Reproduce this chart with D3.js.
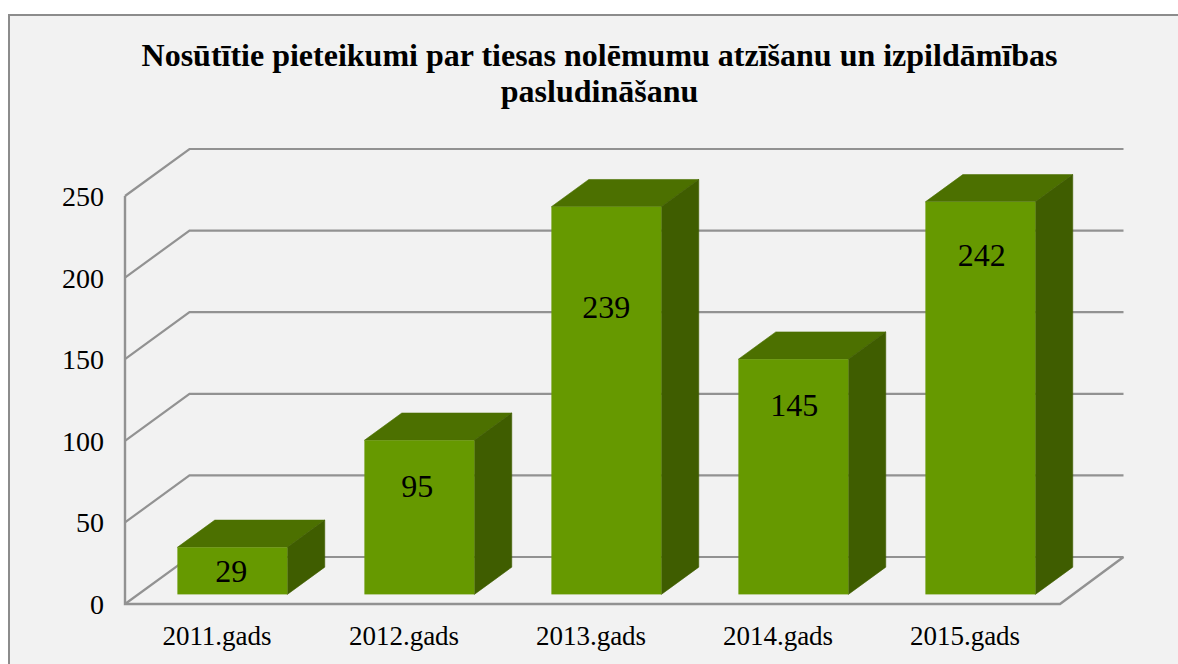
<!DOCTYPE html>
<html><head><meta charset="utf-8">
<script src="https://cdn.jsdelivr.net/npm/d3@7"></script>
<style>html,body{margin:0;padding:0;background:#fff}svg{display:block}text{font-family:"Liberation Serif",serif;fill:#000}</style>
</head><body><svg id="c" width="1178" height="664"></svg>
<script>
const categories = ["2011.gads","2012.gads","2013.gads","2014.gads","2015.gads"];
const values = [29,95,239,145,242];
const yTicks = [0,50,100,150,200,250];
const titleLines = ["Nosūtītie pieteikumi par tiesas nolēmumu atzīšanu un izpildāmības","pasludināšanu"];

const svg = d3.select("#c");
const labelDrop = [35,57,111,57,64], labelShift = [-1,-2,0,1,1.5];
const plotL=125, plotR=1060, plotB=604, plotT=196, wallDx=64.5, wallDy=-47;
const barInset=0.215, barDepth=0.58;
const x = d3.scaleBand().domain(categories).range([plotL,plotR]).paddingInner(0.412).paddingOuter(0.206);
const y = d3.scaleLinear().domain([0,250]).range([plotB,plotT]);
const yBar = d3.scaleLinear().domain([0,250]).range([plotB+0.5,plotB+0.5-405.5]);
const grid="#929292";

svg.append("rect").attr("x",9).attr("y",15).attr("width",1180).attr("height",660)
  .attr("fill","#f2f2f2").attr("stroke","#8c8c8c").attr("stroke-width",2);

const line=d3.line();
yTicks.forEach(t=>{
  const pts = [[plotL,y(t)],[plotL+wallDx,y(t)+wallDy],[plotR+wallDx-1,y(t)+wallDy]];
  svg.append("path").attr("d",line(pts)).attr("fill","none").attr("stroke",grid).attr("stroke-width",2.2);
});
svg.append("path").attr("d",line([[plotL,plotT],[plotL,plotB],[plotR,plotB],[plotR+wallDx-1,plotB+wallDy]]))
  .attr("fill","none").attr("stroke",grid).attr("stroke-width",2.4);

const ox=wallDx*barInset, oy=wallDy*barInset, dx=wallDx*barDepth, dy=wallDy*barDepth;
const bars=svg.selectAll("g.bar").data(values).join("g").attr("class","bar");
function barGeom(v,i){const l=x(categories[i])+ox,r=l+x.bandwidth(),t=yBar(v)+oy,b=yBar(0)+oy;return{l,r,t,b};}
bars.append("path").attr("fill","#4c7000").attr("stroke","#4c7000").attr("stroke-width",.6).attr("d",(v,i)=>{const g=barGeom(v,i);return line([[g.l,g.t],[g.l+dx,g.t+dy],[g.r+dx,g.t+dy],[g.r,g.t]])+"Z";});
bars.append("path").attr("fill","#3f5d00").attr("stroke","#3f5d00").attr("stroke-width",.6).attr("d",(v,i)=>{const g=barGeom(v,i);return line([[g.r,g.t],[g.r+dx,g.t+dy],[g.r+dx,g.b+dy],[g.r,g.b]])+"Z";});
bars.append("rect").attr("fill","#669900").attr("x",(v,i)=>barGeom(v,i).l).attr("y",(v,i)=>barGeom(v,i).t)
  .attr("width",x.bandwidth()).attr("height",(v,i)=>{const g=barGeom(v,i);return g.b-g.t;});
bars.append("text").attr("text-anchor","middle").attr("font-size",32)
  .attr("x",(v,i)=>{const g=barGeom(v,i);return (g.l+g.r)/2+labelShift[i];})
  .attr("y",(v,i)=>barGeom(v,i).t+labelDrop[i])
  .text(v=>v);

svg.selectAll("text.yl").data(yTicks).join("text").attr("class","yl").attr("text-anchor","end")
  .attr("font-size",28).attr("x",104).attr("y",t=>y(t)+10).text(t=>t);
svg.selectAll("text.xl").data(categories).join("text").attr("class","xl").attr("text-anchor","middle")
  .attr("font-size",27).attr("x",c=>x(c)+x.bandwidth()/2-1.5).attr("y",645).text(c=>c);
svg.selectAll("text.tl").data(titleLines).join("text").attr("class","tl").attr("text-anchor","middle")
  .attr("font-size",32).attr("font-weight","bold").attr("x",599.5).attr("y",(d,i)=>66+i*36).text(d=>d);
</script></body></html>
